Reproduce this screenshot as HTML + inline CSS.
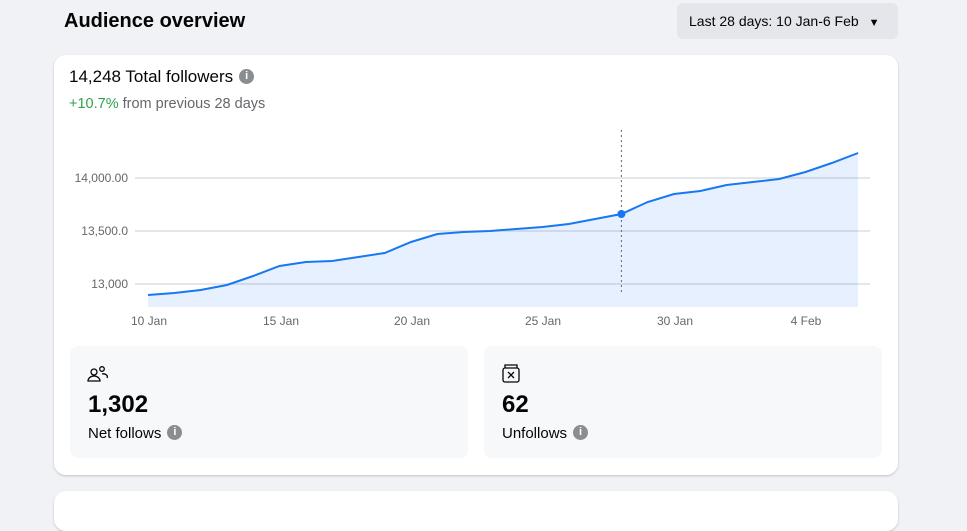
<!DOCTYPE html>
<html><head><meta charset="utf-8"><style>
body{margin:0;width:967px;height:501px;background:#f0f2f5;font-family:"Liberation Sans",sans-serif;position:relative;overflow:hidden;color:#050505}
.a{position:absolute}
.card{position:absolute;background:#fff;border-radius:12px;box-shadow:0 1px 2px rgba(0,0,0,.2)}
.sub{position:absolute;background:#f7f8fa;border-radius:8px}
.info{display:inline-block;width:15px;height:15px;border-radius:50%;background:#8a8d91;color:#fff;font-size:11px;font-weight:bold;text-align:center;line-height:15px;vertical-align:middle;margin-left:6px;margin-top:-3px}
</style></head><body>
<div class="a" style="left:64px;top:10px;font-size:20px;font-weight:bold">Audience overview</div>
<div class="a" style="left:677px;top:3px;width:221px;height:36px;background:#e4e6eb;border-radius:6px;font-size:14px;line-height:36px;text-indent:12px">Last 28 days: 10 Jan-6 Feb <span style="font-size:11px;margin-left:6px">&#9660;</span></div>
<div class="card" style="left:54px;top:55px;width:844px;height:420px"></div>
<div class="card" style="left:54px;top:491px;width:844px;height:40px"></div>
<div class="a" style="left:69px;top:67px;font-size:17px">14,248 Total followers<span class="info">i</span></div>
<div class="a" style="left:69px;top:96px;font-size:14.5px;color:#65676b"><span style="color:#31a24c">+10.7%</span> from previous 28 days</div>
<div class="sub" style="left:70px;top:346px;width:398px;height:112px"></div>
<div class="sub" style="left:484px;top:346px;width:398px;height:112px"></div>
<svg class="a" style="left:0;top:0" width="967" height="501">
<g stroke="#dcdfe3" stroke-width="1.5"><line x1="135" y1="178" x2="870" y2="178"/><line x1="135" y1="231" x2="870" y2="231"/><line x1="135" y1="284" x2="870" y2="284"/></g>
<polygon fill="rgba(24,119,242,0.11)" points="148,307 148,295 174.3,293 200.6,290 226.9,285 253.2,276 279.5,266 305.8,262 332.1,261 358.4,257 384.7,253 411,242 437.3,234 463.6,232 489.9,231 516.2,229 542.5,227 568.8,224 595.1,219 621.4,214 647.7,202 674,194 700.3,191 726.6,185 752.9,182 779.2,179 805.5,172 831.8,163 858.1,153 858.1,307"/>
<line x1="621.4" y1="130" x2="621.4" y2="295" stroke="#606770" stroke-dasharray="2,3" stroke-width="1"/>
<polyline fill="none" stroke="#1877f2" stroke-width="2" points="148,295 174.3,293 200.6,290 226.9,285 253.2,276 279.5,266 305.8,262 332.1,261 358.4,257 384.7,253 411,242 437.3,234 463.6,232 489.9,231 516.2,229 542.5,227 568.8,224 595.1,219 621.4,214 647.7,202 674,194 700.3,191 726.6,185 752.9,182 779.2,179 805.5,172 831.8,163 858.1,153"/>
<circle cx="621.4" cy="214" r="4" fill="#1877f2"/>
<g font-size="12" fill="#65676b" font-family="Liberation Sans, sans-serif">
<text x="128" y="182" text-anchor="end">14,000.00</text>
<text x="128" y="235" text-anchor="end">13,500.0</text>
<text x="128" y="288" text-anchor="end">13,000</text>
<g text-anchor="middle"><text x="149" y="325">10 Jan</text><text x="281" y="325">15 Jan</text><text x="412" y="325">20 Jan</text><text x="543" y="325">25 Jan</text><text x="675" y="325">30 Jan</text><text x="806" y="325">4 Feb</text></g>
</g>
<g fill="none" stroke="#050505" stroke-width="1.3">
<circle cx="94" cy="372" r="3"/><path d="M88 381 a6 5 0 0 1 12 0 z"/><circle cx="102" cy="369" r="2.3"/><path d="M102 374 a4 3 0 0 1 5 4"/>
<rect x="503" y="368" width="16" height="14" rx="2"/><path d="M505 368 v-3 h12 v3"/><path d="M508 372 l6 6 M514 372 l-6 6"/>
</g>
</svg>
<div class="a" style="left:88px;top:391px;font-size:24px;font-weight:bold">1,302</div>
<div class="a" style="left:88px;top:425px;font-size:15px">Net follows<span class="info">i</span></div>
<div class="a" style="left:502px;top:391px;font-size:24px;font-weight:bold">62</div>
<div class="a" style="left:502px;top:425px;font-size:15px">Unfollows<span class="info">i</span></div>
</body></html>
